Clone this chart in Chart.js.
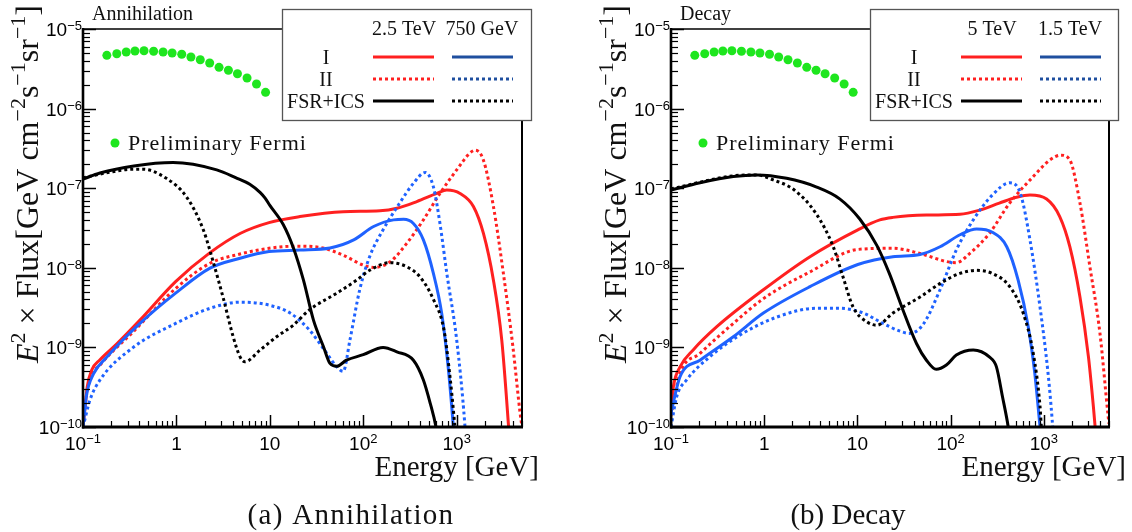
<!DOCTYPE html>
<html>
<head>
<meta charset="utf-8">
<title>Gamma-ray flux: annihilation and decay</title>
<script src="https://cdn.jsdelivr.net/npm/chart.js@4.4.1/dist/chart.umd.min.js"></script>
<style>
  body { margin: 0; background: #fff; }
  #wrap { position: relative; width: 1132px; height: 532px; }
  canvas { position: absolute; top: 0; }
</style>
</head>
<body>
<div id="wrap">
  <canvas id="annChart" width="566" height="532" style="left:0;width:566px;height:532px"></canvas>
  <canvas id="decChart" width="566" height="532" style="left:566px;width:566px;height:532px"></canvas>
</div>
<script>
// values: E in GeV, E^2 x Flux in GeV cm^-2 s^-1 sr^-1

// preliminary Fermi points (same in both panels)
const fermiE = [0.18, 0.23, 0.29, 0.36, 0.45, 0.57, 0.72, 0.9, 1.14, 1.43, 1.8, 2.27, 2.86, 3.6, 4.5, 5.7, 7.2, 9.0];
const fermiFlux = [4.67e-6, 4.89e-6, 5.14e-6, 5.29e-6, 5.33e-6, 5.25e-6, 5.14e-6, 4.99e-6, 4.81e-6, 4.45e-6,
                   4.11e-6, 3.74e-6, 3.30e-6, 3.03e-6, 2.74e-6, 2.42e-6, 2.04e-6, 1.60e-6];

// (a) annihilation, 2.5 TeV (red / black solid) and 750 GeV (blue / black dotted)
const annIHeavyE = [0.1, 0.105, 0.111, 0.124, 0.152, 0.229, 0.407, 0.98, 2.29, 4.8, 9.8, 21, 61, 151, 229, 374, 612, 784, 1087, 1510, 1933, 2472, 3035, 3573, 3700];
const annIHeavy = [1.0e-10, 1.7e-10, 3.2e-10, 5.2e-10, 7.0e-10, 1.1e-9, 2.2e-9, 6.7e-9, 1.55e-8, 2.7e-8, 3.7e-8, 4.4e-8, 5.07e-8, 5.2e-8, 5.6e-8, 6.8e-8, 8.6e-8, 9.5e-8, 8.6e-8, 5.9e-8, 2.7e-8, 7.0e-9, 1.24e-9, 1.1e-10, 6e-11];
const annIIHeavyE = [0.1, 0.106, 0.119, 0.152, 0.35, 0.98, 2.29, 4.8, 9.8, 19.4, 34.7, 61, 100, 129, 194, 292, 440, 662, 1000, 1380, 1570, 1930, 2472, 3160, 3995, 4770, 5000];
const annIIHeavy = [1.0e-10, 2.0e-10, 4.0e-10, 6.0e-10, 1.6e-9, 5.5e-9, 1.14e-8, 1.49e-8, 1.76e-8, 1.87e-8, 1.8e-8, 1.44e-8, 1.08e-8, 1.01e-8, 1.19e-8, 2.03e-8, 4.0e-8, 8.6e-8, 1.7e-7, 2.75e-7, 3.0e-7, 2.26e-7, 5.9e-8, 8.5e-9, 1.02e-9, 1.5e-10, 1.0e-10];
const annILightE = [0.1, 0.109, 0.129, 0.179, 0.407, 0.98, 2.29, 4.8, 9.8, 21, 44, 79, 129, 211, 270, 344, 440, 563, 690, 810, 915, 950];
const annILight = [1.0e-10, 2.5e-10, 4.6e-10, 7.5e-10, 2.0e-9, 4.8e-9, 9.9e-9, 1.32e-8, 1.6e-8, 1.67e-8, 1.77e-8, 2.24e-8, 3.3e-8, 4.0e-8, 4.06e-8, 3.6e-8, 2.24e-8, 8.5e-9, 2.7e-9, 5.7e-10, 1.1e-10, 6e-11];
const annIILightE = [0.1, 0.119, 0.152, 0.345, 0.98, 2.29, 4.8, 9.8, 16.5, 26.4, 40.8, 52, 61, 72, 91.6, 117, 163, 245, 344, 460, 563, 662, 784, 1000, 1220, 1260];
const annIILight = [1.0e-10, 2.2e-10, 3.9e-10, 1.0e-9, 2.0e-9, 3.1e-9, 3.7e-9, 3.4e-9, 2.7e-9, 1.66e-9, 8.4e-10, 5.7e-10, 5.0e-10, 1.24e-9, 5.3e-9, 1.38e-8, 3.0e-8, 6.5e-8, 1.15e-7, 1.58e-7, 1.04e-7, 3.6e-8, 8.5e-9, 1.24e-9, 1.1e-10, 6e-11];
const annFsrHeavyE = [0.1, 0.152, 0.35, 0.92, 2.7, 4.3, 6.1, 7.9, 8.9, 10, 13.9, 17.8, 22.9, 29.3, 37.5, 44, 52, 66, 100, 163, 229, 344, 440, 520, 600, 640];
const annFsrHeavy = [1.3e-7, 1.55e-7, 1.9e-7, 2.1e-7, 1.7e-7, 1.36e-7, 1.12e-7, 8.8e-8, 7.5e-8, 6.1e-8, 3.5e-8, 1.8e-8, 7.0e-9, 2.2e-9, 1.02e-9, 6.3e-10, 5.8e-10, 6.9e-10, 8.1e-10, 1.0e-9, 8.8e-10, 6.9e-10, 3.9e-10, 2.0e-10, 1.0e-10, 6e-11];
const annFsrLightE = [0.1, 0.2, 0.345, 0.44, 0.78, 1.28, 1.94, 2.5, 3.2, 4.05, 4.8, 5.4, 7.9, 11.8, 17.8, 26.4, 52, 85, 117, 194, 292, 404, 563, 730, 840, 950, 990];
const annFsrLight = [1.35e-7, 1.6e-7, 1.73e-7, 1.73e-7, 1.33e-7, 7.8e-8, 3.0e-8, 1.14e-8, 4.0e-9, 1.36e-9, 7.6e-10, 6.6e-10, 9.3e-10, 1.36e-9, 1.9e-9, 2.95e-9, 4.8e-9, 7.0e-9, 9.3e-9, 1.16e-8, 1.03e-8, 7.7e-9, 4.0e-9, 1.67e-9, 4.7e-10, 1.1e-10, 6e-11];

// (b) decay, 5 TeV and 1.5 TeV
const decIHeavyE = [0.1, 0.106, 0.125, 0.173, 0.31, 0.98, 3.1, 10.1, 17.4, 24, 55, 126, 204, 333, 510, 710, 1070, 1480, 1900, 2440, 3010, 3400, 3550, 3700];
const decIHeavy = [1.6e-10, 3.2e-10, 5.7e-10, 9.3e-10, 1.82e-9, 5.3e-9, 1.38e-8, 3.0e-8, 4.0e-8, 4.3e-8, 4.6e-8, 4.7e-8, 5.3e-8, 6.5e-8, 7.7e-8, 8.2e-8, 7.3e-8, 4.4e-8, 1.84e-8, 4.3e-9, 7.6e-10, 1.8e-10, 1.0e-10, 6e-11];
const decIIHeavyE = [0.1, 0.125, 0.205, 0.466, 0.98, 3.1, 10.1, 24, 47, 90, 115, 160, 260, 430, 770, 1160, 1520, 1900, 2440, 3120, 4000, 4900, 5000];
const decIIHeavy = [1.4e-10, 4.7e-10, 8.4e-10, 2.0e-9, 4.1e-9, 8.9e-9, 1.7e-8, 1.76e-8, 1.51e-8, 1.2e-8, 1.16e-8, 1.51e-8, 2.7e-8, 6.5e-8, 1.4e-7, 2.26e-7, 2.6e-7, 2.26e-7, 6.5e-8, 1.03e-8, 1.5e-9, 1.35e-10, 1.1e-10];
const decILightE = [0.1, 0.125, 0.205, 0.466, 0.98, 3.1, 10.1, 24, 47, 77, 126, 190, 280, 400, 530, 680, 800, 910, 950];
const decILight = [1.5e-10, 4.3e-10, 6.9e-10, 1.36e-9, 2.7e-9, 5.8e-9, 1.1e-8, 1.38e-8, 1.47e-8, 1.84e-8, 2.6e-8, 3.07e-8, 2.8e-8, 1.84e-8, 7.0e-9, 1.82e-9, 4.7e-10, 1.0e-10, 6e-11];
const decIILightE = [0.1, 0.115, 0.147, 0.26, 0.55, 1.36, 3.6, 6.5, 11.6, 17.4, 28.6, 36, 50, 77, 115, 175, 280, 430, 560, 710, 910, 1110, 1230, 1280];
const decIILight = [1.0e-10, 2.4e-10, 3.9e-10, 7.6e-10, 1.43e-9, 2.4e-9, 3.1e-9, 3.1e-9, 2.7e-9, 2.1e-9, 1.6e-9, 1.5e-9, 1.9e-9, 5.3e-9, 1.67e-8, 4.0e-8, 8.2e-8, 1.17e-7, 8.6e-8, 2.24e-8, 3.2e-9, 4.7e-10, 1.2e-10, 6e-11];
const decFsrHeavyE = [0.1, 0.205, 0.466, 0.83, 1.74, 3.6, 6.5, 10.6, 16.2, 22, 30, 43, 55, 70, 90, 115, 175, 260, 310, 360, 415, 440];
const decFsrHeavy = [9.5e-8, 1.17e-7, 1.4e-7, 1.47e-7, 1.33e-7, 1.04e-7, 7.3e-8, 4.1e-8, 1.9e-8, 8.5e-9, 3.2e-9, 1.12e-9, 6.9e-10, 5.3e-10, 6.0e-10, 8.0e-10, 9.3e-10, 7.6e-10, 5.7e-10, 2.4e-10, 1.0e-10, 6e-11];
const decFsrLightE = [0.1, 0.466, 0.83, 1.25, 2.1, 3.6, 5.5, 7.0, 9.0, 12.6, 16.2, 24, 47, 83, 126, 190, 280, 430, 600, 770, 910, 940, 970];
const decFsrLight = [9.8e-8, 1.43e-7, 1.47e-7, 1.27e-7, 9.5e-8, 4.8e-8, 1.84e-8, 7.7e-9, 3.2e-9, 2.1e-9, 1.9e-9, 2.7e-9, 4.3e-9, 6.7e-9, 8.5e-9, 9.3e-9, 8.5e-9, 5.8e-9, 2.7e-9, 8.4e-10, 1.8e-10, 1.0e-10, 6e-11];

// axes
const xTickValues = [0.1, 1, 10, 100, 1000];
const xTickBase = ['10', '1', '10', '10', '10'];
const xTickExp = ['\u22121', '', '', '2', '3'];
const yTickValues = [1e-5, 1e-6, 1e-7, 1e-8, 1e-9, 1e-10];
const yTickExp = ['\u22125', '\u22126', '\u22127', '\u22128', '\u22129', '\u221210'];
const legendRows = ['I', 'II', 'FSR+ICS'];

const SERIF = '"Liberation Serif", "Times New Roman", serif';
const SANS = '"Liberation Sans", Arial, sans-serif';
const RED = '#ff2020', BLUE = '#1f62ff', BLUE_LEG = '#1f4f9f', BLACK = '#000', GREEN = '#1ee61e';

// one line dataset, row/col say where it goes in the table legend
function curve(label, E, F, color, dotted, row, col, legColor) {
  return {
    label: label,
    data: E.map((e, i) => ({ x: e, y: F[i] })),
    borderColor: color,
    borderWidth: 3,
    borderDash: dotted ? [3, 3] : [],
    pointRadius: 0,
    cubicInterpolationMode: 'monotone',
    fill: false,
    legRow: row, legCol: col, legColor: legColor || color
  };
}

// text with italic / superscript bits, parts = [[text, style]] style '' | 'i' | 's'
function drawRich(ctx, parts, x, y, size, supSize, raise, family, align) {
  const fontFor = p => (p[1] === 'i' ? 'italic ' : '') + (p[1] === 's' ? supSize : size) + 'px ' + family;
  let w = 0;
  parts.forEach(p => { ctx.font = fontFor(p); w += ctx.measureText(p[0]).width; });
  let cx = align === 'right' ? x - w : align === 'center' ? x - w / 2 : x;
  ctx.textAlign = 'left';
  parts.forEach(p => {
    ctx.font = fontFor(p);
    ctx.fillText(p[0], cx, p[1] === 's' ? y - raise : y);
    cx += ctx.measureText(p[0]).width;
  });
}

function seg(ctx, x1, y1, x2, y2) {
  ctx.beginPath(); ctx.moveTo(x1, y1); ctx.lineTo(x2, y2); ctx.stroke();
}

// frame, inward ticks, tick labels, legend table and texts
const panelPlugin = {
  id: 'panel',
  afterDatasetsDraw(chart, args, opts) {
    const ctx = chart.ctx, a = chart.chartArea, xs = chart.scales.x, ys = chart.scales.y;
    ctx.save();
    ctx.fillStyle = '#000';
    ctx.strokeStyle = '#000';
    ctx.textBaseline = 'alphabetic';

    // minor + major ticks
    ctx.lineWidth = 1.2;
    for (let d = -1; d <= 3; d++) {
      for (let m = 2; m <= 9; m++) {
        const v = m * Math.pow(10, d);
        if (v > 5000) continue;
        const px = Math.round(xs.getPixelForValue(v)) + 0.5;
        seg(ctx, px, a.bottom, px, a.bottom - 6);
      }
    }
    for (let d = -10; d <= -6; d++) {
      for (let m = 2; m <= 9; m++) {
        const py = Math.round(ys.getPixelForValue(m * Math.pow(10, d))) + 0.5;
        seg(ctx, a.left, py, a.left + 7, py);
      }
    }
    ctx.lineWidth = 1.5;
    xTickValues.forEach(v => {
      const px = Math.round(xs.getPixelForValue(v)) + 0.5;
      seg(ctx, px, a.bottom, px, a.bottom - 12);
    });
    yTickValues.forEach(v => {
      const py = Math.round(ys.getPixelForValue(v)) + 0.5;
      seg(ctx, a.left, py, a.left + 13, py);
    });

    // frame
    const boxL = a.left + 199, boxR = a.right + 10, boxT = 9, boxB = 121;
    ctx.lineWidth = 1.5;
    seg(ctx, a.left, a.top, boxL, a.top);
    ctx.lineWidth = 2;
    seg(ctx, a.right, boxB, a.right, a.bottom);
    ctx.lineWidth = 2.6;
    seg(ctx, a.left, a.top - 1, a.left, a.bottom + 1.5);
    ctx.lineWidth = 3;
    seg(ctx, a.left - 1, a.bottom, a.right + 1, a.bottom);

    // tick labels
    xTickValues.forEach((v, i) => {
      drawRich(ctx, [[xTickBase[i], ''], [xTickExp[i], 's']], xs.getPixelForValue(v), a.bottom + 23, 19, 13, 7, SANS, 'center');
    });
    yTickValues.forEach((v, i) => {
      drawRich(ctx, [['10', ''], [yTickExp[i], 's']], a.left - 1, ys.getPixelForValue(v) + 7, 19, 13, 6, SANS, 'right');
    });

    // legend table
    ctx.fillStyle = '#fff';
    ctx.fillRect(boxL, boxT, boxR - boxL, boxB - boxT);
    ctx.strokeStyle = '#555';
    ctx.lineWidth = 1.3;
    ctx.strokeRect(boxL + 0.5, boxT + 0.5, boxR - boxL - 1, boxB - boxT - 1);
    ctx.fillStyle = '#111';
    ctx.font = '20px ' + SERIF;
    ctx.textAlign = 'center';
    ctx.fillText(opts.heads[0], boxL + 122, 35);
    ctx.fillText(opts.heads[1], boxL + 200, 35);
    const rowY = [57, 79, 101];
    legendRows.forEach((r, i) => ctx.fillText(r, boxL + 44, rowY[i] + 7));
    chart.data.datasets.forEach(ds => {
      if (ds.legRow === undefined) return;
      const x0 = boxL + (ds.legCol === 0 ? 91 : 170);
      ctx.strokeStyle = ds.legColor;
      ctx.lineWidth = 3;
      ctx.setLineDash(ds.borderDash);
      seg(ctx, x0, rowY[ds.legRow], x0 + 61, rowY[ds.legRow]);
    });
    ctx.setLineDash([]);

    // Fermi label
    ctx.fillStyle = GREEN;
    ctx.beginPath();
    ctx.arc(a.left + 32, 143, 4.5, 0, Math.PI * 2);
    ctx.fill();
    ctx.fillStyle = '#111';
    ctx.textAlign = 'left';
    ctx.font = '22px ' + SERIF;
    ctx.letterSpacing = '1px';
    ctx.fillText('Preliminary Fermi', a.left + 45, 150);
    ctx.letterSpacing = '0px';

    // panel tag, axis titles, caption
    ctx.font = '20px ' + SERIF;
    ctx.fillText(opts.tag, a.left + 9, 20);
    ctx.font = '29px ' + SERIF;
    ctx.textAlign = 'right';
    ctx.fillText('Energy [GeV]', a.right + 17, 476);
    ctx.textAlign = 'center';
    ctx.letterSpacing = opts.captionSpacing;
    ctx.fillText(opts.caption, opts.captionX, 524);
    ctx.letterSpacing = '0px';

    ctx.save();
    ctx.translate(a.left - 45, 184);
    ctx.rotate(-Math.PI / 2);
    drawRich(ctx, [['E', 'i'], ['2', 's'], [' \u00d7 Flux[GeV cm', ''], ['\u22122', 's'], ['s', ''],
                   ['\u22121', 's'], ['sr', ''], ['\u22121', 's'], [']', '']], 0, 0, 32, 22, 13, SERIF, 'center');
    ctx.restore();
    ctx.restore();
  }
};

function makePanel(id, chartLeft, chartRight, panelOpts, datasets) {
  const fermi = {
    label: 'Preliminary Fermi',
    data: fermiE.map((e, i) => ({ x: e, y: fermiFlux[i] })),
    showLine: false,
    pointRadius: 4.5,
    pointBorderWidth: 0,
    pointBackgroundColor: GREEN,
    borderColor: GREEN
  };
  return new Chart(document.getElementById(id), {
    type: 'line',
    data: { datasets: [fermi].concat(datasets) },
    options: {
      responsive: false,
      animation: false,
      devicePixelRatio: 1,
      events: [],
      layout: { padding: { top: 29, left: 0, right: 566 - chartRight, bottom: 0 } },
      scales: {
        x: {
          type: 'logarithmic', min: 0.1, max: 5000,
          grid: { display: false }, border: { display: false }, ticks: { display: false },
          afterFit: s => { s.height = 532 - 427; }
        },
        y: {
          type: 'logarithmic', min: 1e-10, max: 1e-5,
          grid: { display: false }, border: { display: false }, ticks: { display: false },
          afterFit: s => { s.width = chartLeft; }
        }
      },
      plugins: { legend: { display: false }, tooltip: { enabled: false }, panel: panelOpts }
    },
    plugins: [panelPlugin]
  });
}

makePanel('annChart', 83, 522,
  { tag: 'Annihilation', caption: '(a) Annihilation', captionX: 351, captionSpacing: '1.3px', heads: ['2.5 TeV', '750 GeV'] },
  [
    curve('FSR+ICS 750 GeV', annFsrLightE, annFsrLight, BLACK, true, 2, 1),
    curve('FSR+ICS 2.5 TeV', annFsrHeavyE, annFsrHeavy, BLACK, false, 2, 0),
    curve('II 750 GeV', annIILightE, annIILight, BLUE, true, 1, 1, BLUE_LEG),
    curve('I 750 GeV', annILightE, annILight, BLUE, false, 0, 1, BLUE_LEG),
    curve('II 2.5 TeV', annIIHeavyE, annIIHeavy, RED, true, 1, 0),
    curve('I 2.5 TeV', annIHeavyE, annIHeavy, RED, false, 0, 0)
  ]);

makePanel('decChart', 105, 543,
  { tag: 'Decay', caption: '(b) Decay', captionX: 282, captionSpacing: '0px', heads: ['5 TeV', '1.5 TeV'] },
  [
    curve('FSR+ICS 1.5 TeV', decFsrLightE, decFsrLight, BLACK, true, 2, 1),
    curve('FSR+ICS 5 TeV', decFsrHeavyE, decFsrHeavy, BLACK, false, 2, 0),
    curve('II 1.5 TeV', decIILightE, decIILight, BLUE, true, 1, 1, BLUE_LEG),
    curve('I 1.5 TeV', decILightE, decILight, BLUE, false, 0, 1, BLUE_LEG),
    curve('II 5 TeV', decIIHeavyE, decIIHeavy, RED, true, 1, 0),
    curve('I 5 TeV', decIHeavyE, decIHeavy, RED, false, 0, 0)
  ]);
</script>
</body>
</html>
